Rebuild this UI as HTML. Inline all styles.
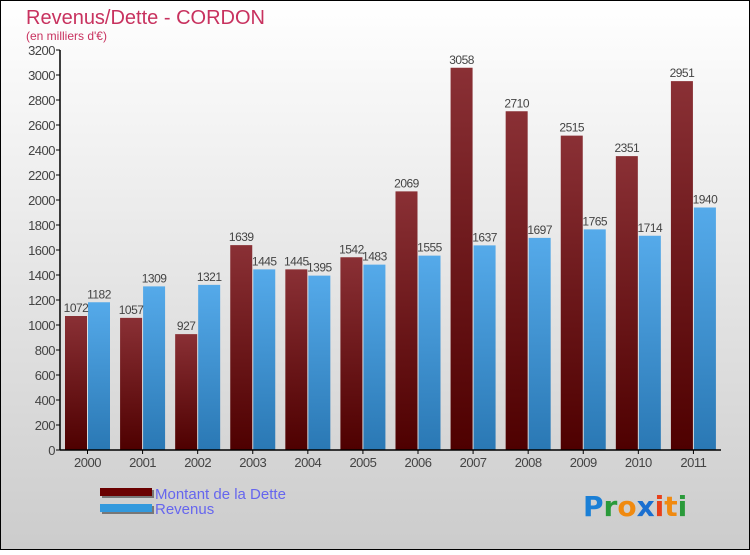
<!DOCTYPE html>
<html><head><meta charset="utf-8"><style>
body{margin:0;width:750px;height:550px;overflow:hidden;font-family:"Liberation Sans",sans-serif}
</style></head><body>
<svg width="750" height="550" xmlns="http://www.w3.org/2000/svg">
<defs>
<linearGradient id="bg" x1="0" y1="0" x2="0" y2="1"><stop offset="0" stop-color="#ffffff"/><stop offset="1" stop-color="#cccccc"/></linearGradient>
<linearGradient id="gd" x1="0" y1="0" x2="0" y2="1"><stop offset="0" stop-color="#8a3035"/><stop offset="1" stop-color="#4e0000"/></linearGradient>
<linearGradient id="gr" x1="0" y1="0" x2="0" y2="1"><stop offset="0" stop-color="#55aaea"/><stop offset="1" stop-color="#2a78b4"/></linearGradient>
</defs>
<rect x="0.5" y="0.5" width="749" height="549" fill="url(#bg)" stroke="#000"/>
<text x="26" y="24" font-size="20" fill="#c8325f">Revenus/Dette - CORDON</text>
<text x="26" y="40" font-size="12" fill="#c8325f">(en milliers d'€)</text>
<g id="plot"></g>
<g>
<rect x="102" y="490" width="52" height="8" fill="#777"/><rect x="100" y="488" width="52" height="8" fill="#6a0000"/>
<text x="155" y="499" font-size="15" fill="#6666ee">Montant de la Dette</text>
<rect x="102" y="506" width="52" height="8" fill="#777"/><rect x="100" y="504" width="52" height="8" fill="#3399dd"/>
<text x="155" y="514" font-size="15" fill="#6666ee">Revenus</text>
</g>
<g font-size="28" font-weight="bold" font-family="'DejaVu Sans',sans-serif">
<text x="583" y="516"><tspan fill="#1a7fd6">P</tspan><tspan fill="#2a9a3a">r</tspan><tspan fill="#f08a10">o</tspan><tspan fill="#1a6fd0">x</tspan><tspan fill="#e8401a">i</tspan><tspan fill="#f08a10">t</tspan><tspan fill="#2a9a3a">i</tspan></text>
</g>
</svg>
<script>
const years=["2000","2001","2002","2003","2004","2005","2006","2007","2008","2009","2010","2011"];
const dette=[1072,1057,927,1639,1445,1542,2069,3058,2710,2515,2351,2951];
const revenus=[1182,1309,1321,1445,1395,1483,1555,1637,1697,1765,1714,1940];
const yTicks=[0,200,400,600,800,1000,1200,1400,1600,1800,2000,2200,2400,2600,2800,3000,3200];
const NS="http://www.w3.org/2000/svg";
const g=document.getElementById('plot');
const x0=60,x1=721,y0=450,yTop=50,yMax=3200;
const step=(x1-x0)/years.length;
function y(v){return y0-(v/yMax)*(y0-yTop);}
function mk(t,a,p){const e=document.createElementNS(NS,t);for(const k in a)e.setAttribute(k,a[k]);(p||g).appendChild(e);return e;}
yTicks.forEach(v=>{
 const t=mk('line',{x1:x0-4,x2:x0,y1:y(v),y2:y(v),stroke:'#000'});
 
 
 const l=mk('text',{x:x0-5,y:y(v)+5,'font-size':13,fill:'#444','text-anchor':'end','letter-spacing':'-0.5'});
 l.textContent=v;
 
 
});
years.forEach((yr,i)=>{
 const gx=x0+step*i;
 const b1=mk('rect',{x:gx+5,y:y(dette[i]),width:22,height:y0-y(dette[i]),fill:'url(#gd)'});
 
 
 const b2=mk('rect',{x:gx+28,y:y(revenus[i]),width:22,height:y0-y(revenus[i]),fill:'url(#gr)'});
 
 
 const v1=mk('text',{x:gx+16,y:y(dette[i])-4,'font-size':12,fill:'#444','text-anchor':'middle','letter-spacing':'-0.5'});
 v1.textContent=dette[i];
 
 
 const v2=mk('text',{x:gx+39,y:y(revenus[i])-4,'font-size':12,fill:'#444','text-anchor':'middle','letter-spacing':'-0.5'});
 v2.textContent=revenus[i];
 
 
 const tk=mk('line',{x1:gx+27.5,x2:gx+27.5,y1:y0,y2:y0+4,stroke:'#000'});
 
 
 const xl=mk('text',{x:gx+27.5,y:y0+17,'font-size':13,fill:'#444','text-anchor':'middle','letter-spacing':'-0.5'});
 xl.textContent=yr;
 
 
});
const ax=mk('line',{x1:x0,x2:x0,y1:yTop,y2:y0,stroke:'#000','stroke-width':1.5});


const bx=mk('line',{x1:x0,x2:x1,y1:y0,y2:y0,stroke:'#000','stroke-width':1.5});


</script>
</body></html>
